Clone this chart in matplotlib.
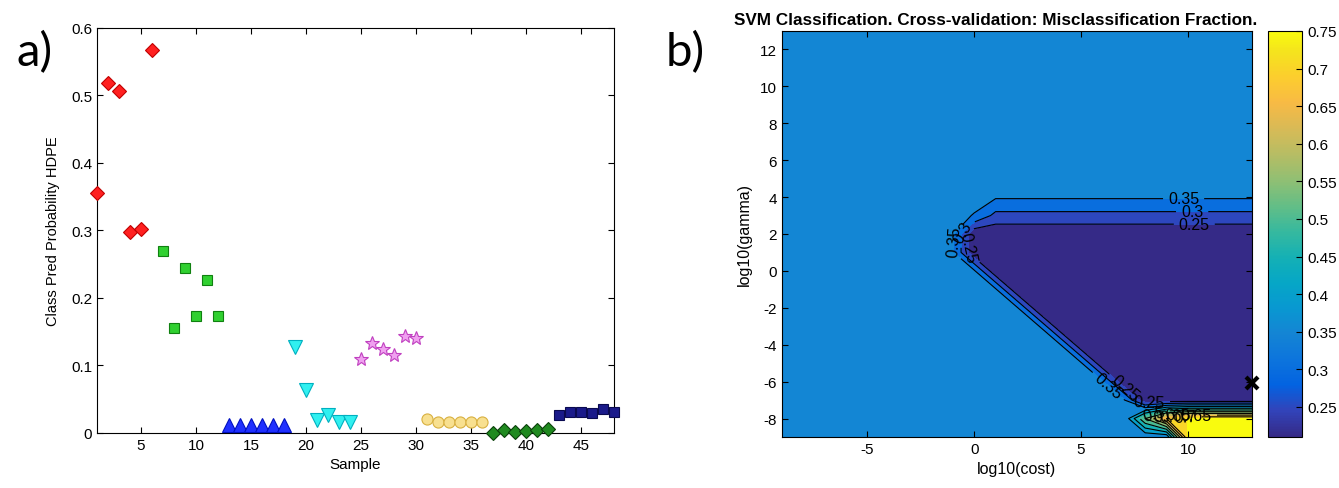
import numpy as np
import matplotlib
matplotlib.use("Agg")
import matplotlib.pyplot as plt
from matplotlib.colors import LinearSegmentedColormap, Normalize
from matplotlib.cm import ScalarMappable

plt.rcParams["font.family"] = ["Liberation Sans", "DejaVu Sans"]

# ── data: panel a) ──────────────────────────────────────────────────────────
sample = np.arange(1, 49)
groups = [
    # (values, marker, face, edge, size)
    ([0.355, 0.518, 0.506, 0.298, 0.302, 0.567], "D", "#ff2020", "#c00000", 7.5),
    ([0.270, 0.155, 0.244, 0.173, 0.226, 0.173], "s", "#30d030", "#108010", 7.0),
    ([0.012, 0.012, 0.012, 0.012, 0.012, 0.012], "^", "#2030ff", "#0010c0", 9.5),
    ([0.128, 0.064, 0.019, 0.027, 0.017, 0.017], "v", "#30f0f0", "#00b0c0", 9.5),
    ([0.109, 0.133, 0.124, 0.116, 0.143, 0.141], "*", "#f0a0f0", "#c040c0", 10.5),
    ([0.021, 0.016, 0.017, 0.017, 0.017, 0.016], "o", "#f8e090", "#d8b040", 8.0),
    ([0.000, 0.005, 0.001, 0.003, 0.005, 0.006], "D", "#208a20", "#0a400a", 7.5),
    ([0.026, 0.031, 0.031, 0.030, 0.036, 0.031], "s", "#1a1a8a", "#0a0a50", 7.0),
]

# ── data: panel b) ──────────────────────────────────────────────────────────
log_cost = np.arange(-9, 14)
log_gamma = np.arange(-9, 14)
codes = {".": 0.356, "o": 0.21, "a": 0.285, "b": 0.349,
         "d": 0.55, "e": 0.70, "y": 0.75}
# one row per log10(gamma) from 13 down to -9, one char per log10(cost) -9..13
grid_rows = [
    ".......................",  # 13
    ".......................",  # 12
    ".......................",  # 11
    ".......................",  # 10
    ".......................",  # 9
    ".......................",  # 8
    ".......................",  # 7
    ".......................",  # 6
    ".......................",  # 5
    ".......................",  # 4
    ".........baaaaaaaaaaaaa",  # 3
    ".........oooooooooooooo",  # 2
    ".........oooooooooooooo",  # 1
    "..........ooooooooooooo",  # 0
    "...........oooooooooooo",  # -1
    "............ooooooooooo",  # -2
    ".............oooooooooo",  # -3
    "..............ooooooooo",  # -4
    "...............oooooooo",  # -5
    "................ooooooo",  # -6
    ".................oooooo",  # -7
    ".................deyyyy",  # -8
    "...................yyyy",  # -9
]
best = (13, -6.1)
levels = [0.25, 0.30, 0.35, 0.40, 0.45, 0.50, 0.55, 0.60, 0.65, 0.70, 0.75]
zmin, zmax = 0.21, 0.75

Z = np.array([[codes[c] for c in row] for row in grid_rows[::-1]])
X, Y = np.meshgrid(log_cost, log_gamma)

# parula (MATLAB) colormap, sampled at 64-entry indices
parula_pts = [
    (0, (0.2081, 0.1663, 0.5292)), (4, (0.1959, 0.2645, 0.7279)),
    (8, (0.0117, 0.3875, 0.8820)), (12, (0.0498, 0.4586, 0.8641)),
    (16, (0.0793, 0.5200, 0.8312)), (20, (0.0343, 0.5966, 0.8199)),
    (24, (0.0228, 0.6535, 0.7768)), (28, (0.0843, 0.6928, 0.7062)),
    (32, (0.2178, 0.7250, 0.6193)), (36, (0.3953, 0.7459, 0.5244)),
    (40, (0.5709, 0.7485, 0.4494)), (44, (0.7184, 0.7411, 0.3905)),
    (48, (0.8507, 0.7299, 0.3360)), (52, (0.9739, 0.7314, 0.2666)),
    (56, (0.9880, 0.8066, 0.1794)), (60, (0.9589, 0.8949, 0.1132)),
    (63, (0.9763, 0.9831, 0.0538)),
]
parula = LinearSegmentedColormap.from_list(
    "parula", [(i / 63, c) for i, c in parula_pts])
norm = Normalize(zmin, zmax)

fig = plt.figure(figsize=(13.39, 4.89), dpi=100)

# ── panel a) ────────────────────────────────────────────────────────────────
ax1 = fig.add_axes([0.0724, 0.1125, 0.3861, 0.8282])
start = 1
for vals, mk, fc, ec, ms in groups:
    xs = sample[start - 1:start - 1 + len(vals)]
    ax1.plot(xs, vals, linestyle="none", marker=mk, markersize=ms,
             markerfacecolor=fc, markeredgecolor=ec, markeredgewidth=0.8,
             clip_on=False, zorder=3)
    start += len(vals)
ax1.set_xlim(1, 48)
ax1.set_ylim(0, 0.6)
ax1.set_xticks([5, 10, 15, 20, 25, 30, 35, 40, 45])
ax1.set_yticks([0, 0.1, 0.2, 0.3, 0.4, 0.5, 0.6])
ax1.set_yticklabels(["0", "0.1", "0.2", "0.3", "0.4", "0.5", "0.6"])
ax1.tick_params(direction="in", top=True, right=True, labelsize=11, length=4)
ax1.set_xlabel("Sample", fontsize=11, labelpad=4)
ax1.set_ylabel("Class Pred Probability HDPE", fontsize=10.5, labelpad=8)

# ── panel b) ────────────────────────────────────────────────────────────────
ax2 = fig.add_axes([0.5840, 0.1043, 0.3510, 0.8303])
# MATLAB fills a band with the colour of its lower level (Z >= level)
fill_levels = [0.0] + [l - 1e-6 for l in levels] + [1.0]
fill_colors = [parula(0.0)] + [parula(norm(l)) for l in levels]
ax2.contourf(X, Y, Z, levels=fill_levels, colors=fill_colors)
cs = ax2.contour(X, Y, Z, levels=levels, colors="black", linewidths=0.8)
label_pos = [(9.8, 3.95), (10.2, 3.2), (10.3, 2.55),
             (-0.95, 1.6), (-0.55, 2.1), (-0.2, 1.3),
             (6.3, -6.2), (7.0, -6.4), (8.2, -6.9),
             (8.4, -7.7), (8.9, -7.8), (9.4, -7.9),
             (9.9, -7.95), (10.4, -8.0)]
ax2.clabel(cs, manual=label_pos, inline=True, fontsize=11.5, fmt="%g")
ax2.plot(*best, marker="x", color="black", markersize=9, markeredgewidth=3,
         clip_on=False, zorder=5)
ax2.set_xlim(-9, 13)
ax2.set_ylim(-9, 13)
ax2.set_xticks([-5, 0, 5, 10])
ax2.set_yticks([-8, -6, -4, -2, 0, 2, 4, 6, 8, 10, 12])
ax2.set_yticklabels(["-8", "-6", "-4", "-2", "0", "2", "4", "6", "8", "10", "12"])
ax2.set_xticklabels(["-5", "0", "5", "10"])
ax2.tick_params(direction="in", top=True, right=True, labelsize=11, length=4)
ax2.set_xlabel("log10(cost)", fontsize=11.5, labelpad=4)
ax2.set_ylabel("log10(gamma)", fontsize=11.5, labelpad=6)
ax2.set_title("SVM Classification. Cross-validation: Misclassification Fraction.",
              fontsize=12.3, fontweight="bold", pad=5, x=0.455)

cax = fig.add_axes([0.9470, 0.1043, 0.0254, 0.8303])
cb = fig.colorbar(ScalarMappable(norm=norm, cmap=parula), cax=cax)
cb.set_ticks(levels)
cb.set_ticklabels(["%g" % l for l in levels])
cax.tick_params(direction="in", labelsize=11, length=4)

fig.text(0.026, 0.893, "a)", fontsize=34, family="Lato", ha="center", va="center")
fig.text(0.512, 0.893, "b)", fontsize=34, family="Lato", ha="center", va="center")

fig.savefig("out.png", dpi=100)
